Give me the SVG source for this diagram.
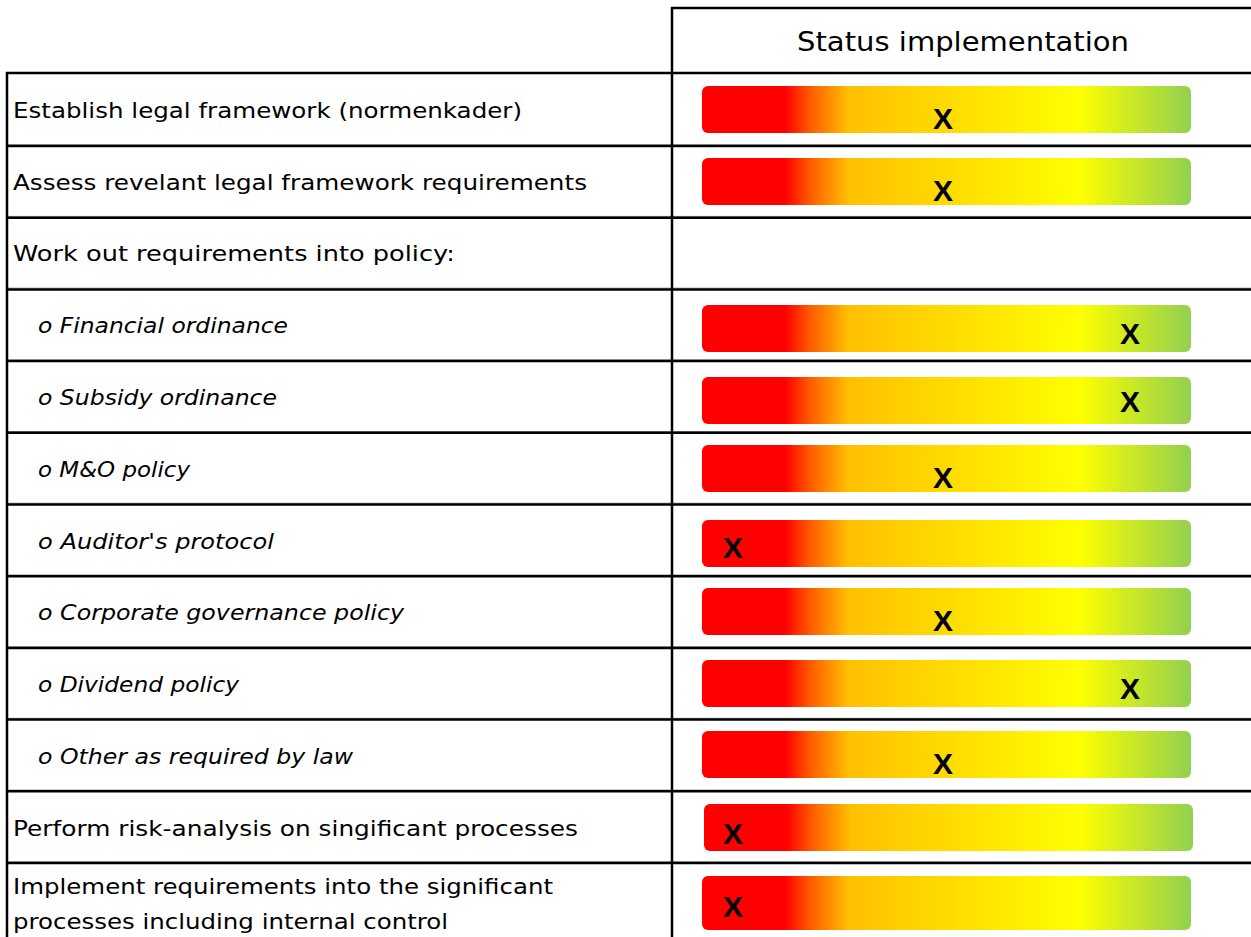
<svg xmlns="http://www.w3.org/2000/svg" width="1251" height="937" viewBox="0 0 1251 937">
<defs>
<linearGradient id="status" x1="0" y1="0" x2="1" y2="0">
<stop offset="0" stop-color="#FF0000"/>
<stop offset="0.17" stop-color="#FF0000"/>
<stop offset="0.22" stop-color="#FF5A00"/>
<stop offset="0.30" stop-color="#FFC000"/>
<stop offset="0.77" stop-color="#FFFF00"/>
<stop offset="1" stop-color="#92D050"/>
</linearGradient>
</defs>
<style>
.lbl{font-family:"DejaVu Sans","Liberation Sans",sans-serif;font-size:21.5px;fill:#000}
.it{font-style:italic}
.hdr{font-family:"DejaVu Sans","Liberation Sans",sans-serif;font-size:26px;fill:#000}
.bar{fill:url(#status)}
.x{font-family:"Liberation Sans",Arial,sans-serif;font-weight:bold;font-size:30px;fill:#000;text-anchor:middle}
.ln{stroke:#000;stroke-width:2.5;fill:none}
.lg{stroke:#9a9a9a;stroke-width:1;fill:none}
</style>
<rect width="1251" height="937" fill="#fff"/>
<g id="grid">
<line class="lg" x1="6" y1="144.7" x2="1251" y2="144.7"/>
<line class="lg" x1="6" y1="216.4" x2="1251" y2="216.4"/>
<line class="lg" x1="6" y1="288.1" x2="1251" y2="288.1"/>
<line class="lg" x1="6" y1="359.8" x2="1251" y2="359.8"/>
<line class="lg" x1="6" y1="431.5" x2="1251" y2="431.5"/>
<line class="lg" x1="6" y1="503.2" x2="1251" y2="503.2"/>
<line class="lg" x1="6" y1="574.9" x2="1251" y2="574.9"/>
<line class="lg" x1="6" y1="646.6" x2="1251" y2="646.6"/>
<line class="lg" x1="6" y1="718.3" x2="1251" y2="718.3"/>
<line class="lg" x1="6" y1="790" x2="1251" y2="790"/>
<line class="lg" x1="6" y1="861.7" x2="1251" y2="861.7"/>
<line class="ln" x1="671" y1="8" x2="1251" y2="8"/>
<line class="ln" x1="6" y1="73" x2="1251" y2="73"/>
<line class="ln" x1="6" y1="146" x2="1251" y2="146"/>
<line class="ln" x1="6" y1="217.7" x2="1251" y2="217.7"/>
<line class="ln" x1="6" y1="289.4" x2="1251" y2="289.4"/>
<line class="ln" x1="6" y1="361.1" x2="1251" y2="361.1"/>
<line class="ln" x1="6" y1="432.8" x2="1251" y2="432.8"/>
<line class="ln" x1="6" y1="504.5" x2="1251" y2="504.5"/>
<line class="ln" x1="6" y1="576.2" x2="1251" y2="576.2"/>
<line class="ln" x1="6" y1="647.9" x2="1251" y2="647.9"/>
<line class="ln" x1="6" y1="719.6" x2="1251" y2="719.6"/>
<line class="ln" x1="6" y1="791.3" x2="1251" y2="791.3"/>
<line class="ln" x1="6" y1="863" x2="1251" y2="863"/>
<line class="ln" x1="7" y1="72" x2="7" y2="937"/>
<line class="ln" x1="672" y1="7" x2="672" y2="937"/>
</g>
<g id="header">
<text class="hdr" x="797" y="51" textLength="332" lengthAdjust="spacingAndGlyphs">Status implementation</text>
</g>
<g id="row1">
<text class="lbl" x="13" y="118" textLength="509" lengthAdjust="spacingAndGlyphs">Establish legal framework (normenkader)</text>
<rect class="bar" x="702" y="86" width="489" height="47" rx="6"/>
<text class="x" x="943" y="129">X</text>
</g>
<g id="row2">
<text class="lbl" x="13" y="190" textLength="574" lengthAdjust="spacingAndGlyphs">Assess revelant legal framework requirements</text>
<rect class="bar" x="702" y="158" width="489" height="47" rx="6"/>
<text class="x" x="943" y="201">X</text>
</g>
<g id="row3">
<text class="lbl" x="13" y="261" textLength="442" lengthAdjust="spacingAndGlyphs">Work out requirements into policy:</text>
</g>
<g id="row4">
<text class="lbl it" x="38" y="333" textLength="250" lengthAdjust="spacingAndGlyphs">o Financial ordinance</text>
<rect class="bar" x="702" y="305" width="489" height="47" rx="6"/>
<text class="x" x="1130" y="344">X</text>
</g>
<g id="row5">
<text class="lbl it" x="38" y="405" textLength="239" lengthAdjust="spacingAndGlyphs">o Subsidy ordinance</text>
<rect class="bar" x="702" y="377" width="489" height="47" rx="6"/>
<text class="x" x="1130" y="412">X</text>
</g>
<g id="row6">
<text class="lbl it" x="38" y="477" textLength="152" lengthAdjust="spacingAndGlyphs">o M&amp;O policy</text>
<rect class="bar" x="702" y="445" width="489" height="47" rx="6"/>
<text class="x" x="943" y="488">X</text>
</g>
<g id="row7">
<text class="lbl it" x="38" y="549" textLength="236" lengthAdjust="spacingAndGlyphs">o Auditor's protocol</text>
<rect class="bar" x="702" y="520" width="489" height="47" rx="6"/>
<text class="x" x="733" y="558">X</text>
</g>
<g id="row8">
<text class="lbl it" x="38" y="620" textLength="366" lengthAdjust="spacingAndGlyphs">o Corporate governance policy</text>
<rect class="bar" x="702" y="588" width="489" height="47" rx="6"/>
<text class="x" x="943" y="631">X</text>
</g>
<g id="row9">
<text class="lbl it" x="38" y="692" textLength="201" lengthAdjust="spacingAndGlyphs">o Dividend policy</text>
<rect class="bar" x="702" y="660" width="489" height="47" rx="6"/>
<text class="x" x="1130" y="699">X</text>
</g>
<g id="row10">
<text class="lbl it" x="38" y="764" textLength="315" lengthAdjust="spacingAndGlyphs">o Other as required by law</text>
<rect class="bar" x="702" y="731" width="489" height="47" rx="6"/>
<text class="x" x="943" y="774">X</text>
</g>
<g id="row11">
<text class="lbl" x="13" y="836" textLength="565" lengthAdjust="spacingAndGlyphs">Perform risk-analysis on singificant processes</text>
<rect class="bar" x="704" y="804" width="489" height="47" rx="6"/>
<text class="x" x="733" y="844">X</text>
</g>
<g id="row12">
<text class="lbl" x="13" y="894" textLength="540" lengthAdjust="spacingAndGlyphs">Implement requirements into the significant</text>
<text class="lbl" x="13" y="929" textLength="435" lengthAdjust="spacingAndGlyphs">processes including internal control</text>
<rect class="bar" x="702" y="876" width="489" height="54" rx="6"/>
<text class="x" x="733" y="917">X</text>
</g>
</svg>
